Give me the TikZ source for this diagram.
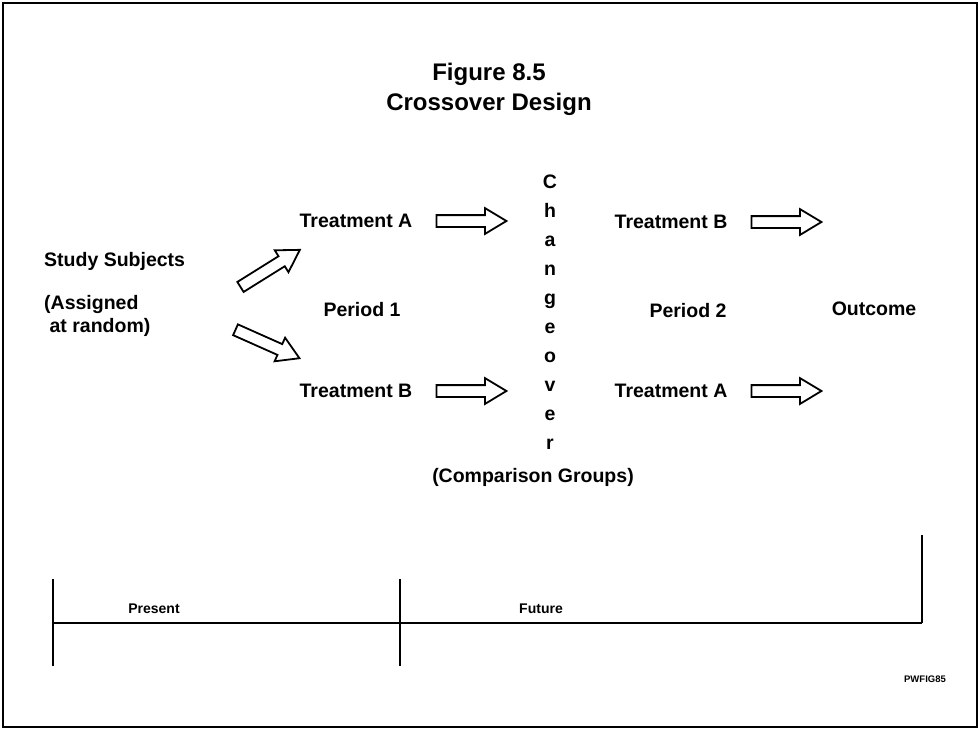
\documentclass[tikz,border=0pt]{standalone}
\usepackage{fontspec}
\setmainfont{Liberation Sans}
\usetikzlibrary{positioning,shapes.arrows}

\begin{document}
\begin{tikzpicture}[x=1pt,y=-1pt,
	txt/.style={font=\bfseries\fontsize{19.5}{23}\selectfont, inner sep=1pt},
	headline/.style={font=\bfseries\fontsize{24}{30}\selectfont, align=center},
	small/.style={font=\bfseries\fontsize{14}{16}\selectfont, inner sep=1pt},
	hollow/.style={single arrow, draw, line width=1.8pt, inner sep=0pt,
		text height=10pt, text depth=0pt, minimum height=70pt,
		single arrow head extend=7pt, single arrow tip angle=62}]
	\useasboundingbox (0,0) rectangle (979,729);
	\draw[line width=2pt] (3,3) rectangle (977,727);
	
	\node[headline] (title) at (489,89) {Figure 8.5\\Crossover Design};
	
	\node[txt, anchor=west] (subj) at (43,261) {Study Subjects};
	\node[txt, anchor=north west, align=left] (rand) at (43,294) {(Assigned\\\ at random)};
	
	\node[txt] (tA1) at (356,221) {Treatment A};
	\node[txt] (tB1) at (356,391) {Treatment B};
	\node[txt] (p1) at (362,310) {Period 1};
	\node[hollow, right=22pt of tA1] (aA1) {};
	\node[hollow, right=22pt of tB1] (aB1) {};
	\node[hollow, rotate=32] (up) at (266,271) {};
	\node[hollow, rotate=-24] (down) at (263,342) {};
	
	% changeover, one letter per line
	\foreach \ch [count=\i] in {C,h,a,n,g,e,o,v,e,r}
		\node[txt, anchor=base] (ch\i) at (550,188+29*\i-29) {\ch};
	\node[txt] (groups) at (533,477) {(Comparison Groups)};
	
	\node[txt] (tB2) at (671,222) {Treatment B};
	\node[txt] (tA2) at (671,391) {Treatment A};
	\node[txt] (p2) at (688,311) {Period 2};
	\node[hollow, right=22pt of tB2] (aB2) {};
	\node[hollow, right=22pt of tA2] (aA2) {};
	\node[txt] (out) at (874,309) {Outcome};
	
	% time line
	\coordinate (t0) at (53,623);
	\coordinate (t1) at (400,623);
	\coordinate (t2) at (922,623);
	\draw[line width=2.4pt] (t0) -- (t2);
	\draw[line width=1.3pt] (53,579) -- (53,666);
	\draw[line width=1.3pt] (400,579) -- (400,666);
	\draw[line width=1.5pt] (t2) -- (922,535);
	\node[small] (now) at (154,609) {Present};
	\node[small] (later) at (541,609) {Future};
	\node[font=\bfseries\fontsize{9.5}{10}\selectfont] (tag) at (925,679) {PWFIG85};
\end{tikzpicture}
\end{document}
